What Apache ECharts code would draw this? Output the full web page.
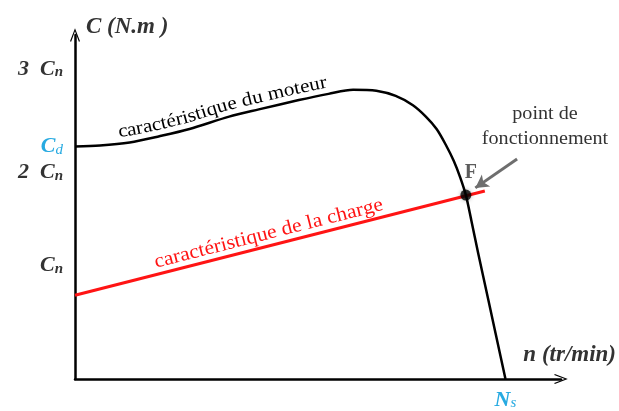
<!DOCTYPE html>
<html>
<head>
<meta charset="utf-8">
<title>Caractéristiques couple / vitesse</title>
<script src="https://cdn.jsdelivr.net/npm/echarts@6/dist/echarts.min.js"></script>
<style>
  html, body { margin: 0; padding: 0; background: #ffffff; }
  #chart { width: 619px; height: 411px; }
</style>
</head>
<body>
<div id="chart"></div>
<script>
// Torque values are expressed with Cn = 100, speeds with Ns = 1000.
const motorSpeed  = [0, 58, 127, 196, 266, 358, 427, 520, 589, 646, 700, 745, 785, 815, 840, 861, 880, 895, 908, 920, 937, 960, 1000];
const motorTorque = [225, 226, 229, 235, 242, 254, 261, 270, 276, 280, 279, 274, 265, 254, 242, 227, 211, 195, 178, 155, 121, 77, 0];

const loadSpeed  = [0, 952];
const loadTorque = [81, 182];

const operatingPoint = [908, 178];

const yTickValues = [100, 200, 225, 300];
const yTickLabels = ['{b|C}{s|n}\n{gap| }', '{b|2\u2002C}{s|n}', '{bd|C}{sd|d}', '{b|3\u2002C}{s|n}'];
const xTickValues = [1000];
const xTickLabels = ['{bd|N}{sd|s}'];

const SERIF = "'Liberation Serif', 'DejaVu Serif', serif";
const INK = '#333333';
const BLUE = '#27aae1';
const RED = '#ff1414';

const chart = echarts.init(document.getElementById('chart'), null, { renderer: 'canvas' });

const arrowHead = 'path://M5,0 L10,13 L8.9,13.6 L5,3 L1.1,13.6 L0,13 Z';

const labelRich = {
  b:   { fontFamily: SERIF, fontWeight: 'bold', fontStyle: 'italic', fontSize: 22, color: INK, lineHeight: 22 },
  s:   { fontFamily: SERIF, fontWeight: 'bold', fontStyle: 'italic', fontSize: 15, color: INK, verticalAlign: 'bottom' },
  gap: { fontSize: 10, lineHeight: 20 },
  bd:  { fontFamily: SERIF, fontWeight: 'bold', fontStyle: 'italic', fontSize: 22, color: BLUE, lineHeight: 22 },
  sd:  { fontFamily: SERIF, fontStyle: 'italic', fontSize: 15, color: BLUE, verticalAlign: 'bottom' }
};

const option = {
  animation: false,
  backgroundColor: '#ffffff',
  grid: { left: 75, right: 55, top: 35, bottom: 30, containLabel: false },
  xAxis: {
    type: 'value',
    min: 0,
    max: 1129,
    interval: 500,
    name: 'n (tr/min)',
    nameLocation: 'end',
    nameGap: 55,
    nameTextStyle: {
      fontFamily: SERIF, fontWeight: 'bold', fontStyle: 'italic', fontSize: 23, color: INK,
      align: 'right', verticalAlign: 'bottom', padding: [0, 0, 12, 0]
    },
    axisLine: {
      onZero: false,
      symbol: ['none', arrowHead],
      symbolSize: [10, 14],
      lineStyle: { color: '#000000', width: 2.5 }
    },
    axisTick: { show: false },
    splitLine: { show: false },
    axisLabel: {
      margin: 10,
      formatter: v => {
        const i = xTickValues.indexOf(v);
        return i < 0 ? '' : xTickLabels[i];
      },
      rich: labelRich
    }
  },
  yAxis: {
    type: 'value',
    min: 0,
    max: 333,
    interval: 25,
    name: 'C (N.m )',
    nameLocation: 'end',
    nameGap: 8,
    nameTextStyle: {
      fontFamily: SERIF, fontWeight: 'bold', fontStyle: 'italic', fontSize: 23, color: INK,
      align: 'left', verticalAlign: 'middle', padding: [0, 0, 0, 11]
    },
    axisLine: {
      onZero: false,
      symbol: ['none', arrowHead],
      symbolSize: [10, 14],
      lineStyle: { color: '#000000', width: 2.5 }
    },
    axisTick: { show: false },
    splitLine: { show: false },
    axisLabel: {
      margin: 12,
      formatter: v => {
        const i = yTickValues.indexOf(v);
        return i < 0 ? '' : yTickLabels[i];
      },
      rich: labelRich
    }
  },
  series: [
    {
      name: 'caractéristique de la charge',
      type: 'line',
      data: loadSpeed.map((x, i) => [x, loadTorque[i]]),
      showSymbol: false,
      lineStyle: { color: RED, width: 3 },
      z: 3
    },
    {
      name: 'caractéristique du moteur',
      type: 'line',
      data: motorSpeed.map((x, i) => [x, motorTorque[i]]),
      smooth: 0.3,
      showSymbol: false,
      lineStyle: { color: '#000000', width: 2.5 },
      z: 4
    },
    {
      name: 'F',
      type: 'scatter',
      data: [operatingPoint],
      symbolSize: 11,
      itemStyle: { color: '#000000', shadowBlur: 4, shadowColor: 'rgba(0,0,0,0.35)' },
      label: {
        show: true,
        formatter: 'F',
        position: 'top',
        distance: 7,
        offset: [5, 0],
        fontFamily: SERIF,
        fontWeight: 'bold',
        fontSize: 20,
        color: INK
      },
      markLine: {
        silent: true,
        symbol: ['none', 'arrow'],
        symbolSize: [11, 13],
        label: { show: false },
        lineStyle: { color: '#6e6e6e', width: 3, type: 'solid' },
        data: [[{ coord: [1027, 213] }, { coord: [930, 185] }]]
      },
      z: 6
    }
  ]
};

chart.setOption(option);

// --- text laid out along a curve -------------------------------------------
function pixelPath(xs, ys) {
  const pts = xs.map((x, i) => chart.convertToPixel({ gridIndex: 0 }, [x, ys[i]]));
  const cum = [0];
  for (let i = 1; i < pts.length; i++) {
    cum.push(cum[i - 1] + Math.hypot(pts[i][0] - pts[i - 1][0], pts[i][1] - pts[i - 1][1]));
  }
  return { pts, cum };
}

function pointAt(path, s) {
  const { pts, cum } = path;
  let i = 1;
  while (i < pts.length - 1 && cum[i] < s) i++;
  const a = pts[i - 1], b = pts[i];
  const len = cum[i] - cum[i - 1];
  const t = (s - cum[i - 1]) / len;
  return { x: a[0] + (b[0] - a[0]) * t, y: a[1] + (b[1] - a[1]) * t, tx: (b[0] - a[0]) / len, ty: (b[1] - a[1]) / len };
}

function arcAtSpeed(path, speed) {
  const px = chart.convertToPixel({ gridIndex: 0 }, [speed, 0])[0];
  const { pts, cum } = path;
  for (let i = 1; i < pts.length; i++) {
    if (pts[i][0] >= px) {
      const t = (px - pts[i - 1][0]) / (pts[i][0] - pts[i - 1][0]);
      return cum[i - 1] + (cum[i] - cum[i - 1]) * t;
    }
  }
  return cum[cum.length - 1];
}

// Smooth the tangent by averaging over a short window so letters rotate gently.
function tangentAt(path, s) {
  const a = pointAt(path, s - 8), b = pointAt(path, s + 8);
  const dx = b.x - a.x, dy = b.y - a.y, l = Math.hypot(dx, dy);
  return { tx: dx / l, ty: dy / l };
}

function textOnPath(path, text, fromSpeed, toSpeed, fontSize, color, lift) {
  const ctx = document.createElement('canvas').getContext('2d');
  ctx.font = fontSize + 'px ' + SERIF;
  const chars = Array.from(text);
  const widths = chars.map(c => ctx.measureText(c).width);
  const total = widths.reduce((a, b) => a + b, 0);
  const s0 = arcAtSpeed(path, fromSpeed);
  const s1 = arcAtSpeed(path, toSpeed);
  const k = (s1 - s0) / total;
  const out = [];
  let s = s0;
  chars.forEach((c, i) => {
    const w = widths[i] * k;
    const p = pointAt(path, s + w / 2);
    const t = tangentAt(path, s + w / 2);
    const nx = t.ty, ny = -t.tx;
    out.push({
      type: 'text',
      x: p.x + nx * lift,
      y: p.y + ny * lift,
      rotation: -Math.atan2(t.ty, t.tx),
      scaleX: k,
      silent: true,
      z: 10,
      style: { text: c, fontFamily: SERIF, fontSize: fontSize, fill: color, align: 'center', verticalAlign: 'middle' }
    });
    s += w;
  });
  return out;
}

const motorPath = pixelPath(motorSpeed, motorTorque);
const loadPath = pixelPath(loadSpeed, loadTorque);

const graphics = []
  .concat(textOnPath(motorPath, 'caractéristique du moteur', 104, 590, 19, '#000000', 11.5))
  .concat(textOnPath(loadPath, 'caractéristique de la charge', 192, 722, 20, RED, 12));

graphics.push({
  type: 'text',
  x: 545,
  y: 127,
  scaleX: 1.06,
  silent: true,
  z: 10,
  style: {
    text: 'point de\nfonctionnement',
    fontFamily: SERIF,
    fontSize: 19,
    lineHeight: 25,
    fill: INK,
    align: 'center',
    verticalAlign: 'middle'
  }
});

chart.setOption({ graphic: { elements: graphics } });
</script>
</body>
</html>
